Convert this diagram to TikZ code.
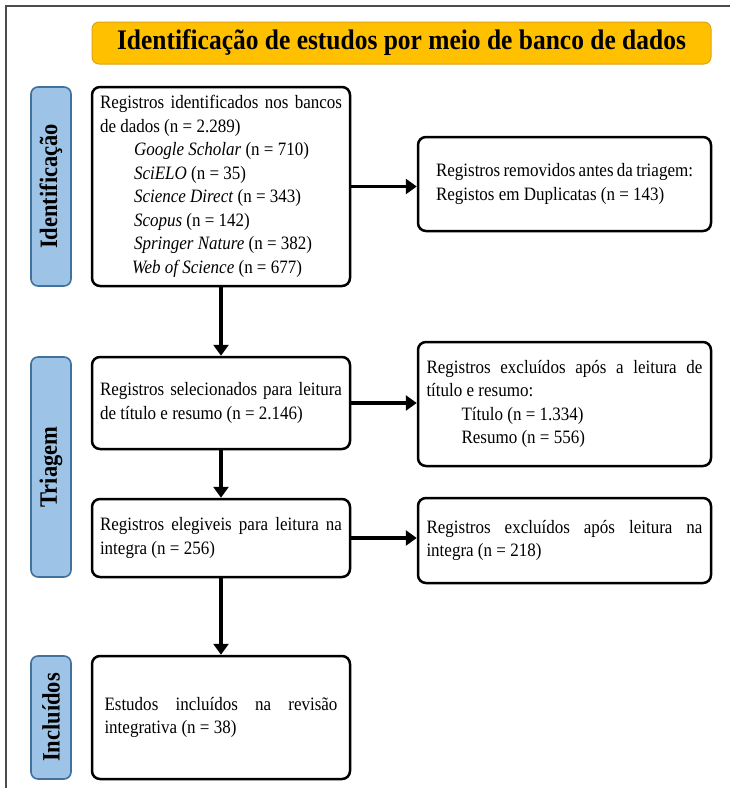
\documentclass[tikz,border=0pt]{standalone}
\usepackage{fontspec}
\setmainfont[FakeStretch=0.9]{Liberation Serif}
\usepackage{tikz}
\usetikzlibrary{arrows.meta}
\definecolor{amarelo}{RGB}{255,192,0}
\definecolor{amareloborda}{RGB}{222,165,20}
\definecolor{azul}{RGB}{157,195,230}
\definecolor{azulborda}{RGB}{65,113,156}
\tikzstyle{caixa}=[draw=black, line width=2.5pt, rounded corners=8pt, align=justify, inner sep=0pt, font=\fontsize{18.9}{23.5}\selectfont]
\tikzstyle{fase}=[draw=azulborda, fill=azul, line width=1.6pt, rounded corners=7pt, rotate=90, inner sep=0pt, minimum height=40pt, font=\fontsize{25}{28}\selectfont\bfseries]
\tikzstyle{titulo}=[draw=amareloborda, fill=amarelo, line width=1pt, rounded corners=7pt, inner sep=0pt, font=\fontsize{28.3}{32}\selectfont\bfseries]
\tikzstyle{seta}=[line width=3.2pt, -{Triangle[width=15pt,length=11pt]}]

\begin{document}
\begin{tikzpicture}[x=1pt, y=1pt]
    \useasboundingbox (0,0) rectangle (730,-788);
    \draw[line width=1.2pt, black!70] (6,-788) -- (6,-6) -- (730,-6);

    \node[titulo, minimum width=619pt, minimum height=42pt] (tit) at (401.5,-43) {Identificação de estudos por meio de banco de dados};

    \node[fase, minimum width=199pt] (fid) at (51,-186.5) {Identificação};
    \node[fase, minimum width=220pt] (ftr) at (51,-467) {Triagem};
    \node[fase, minimum width=123pt] (fin) at (51,-717.5) {Incluídos};

    \node[caixa, text width=242pt, minimum width=258pt, minimum height=199pt] (ident) at (221,-186.5) {Registros identificados nos bancos\linebreak de dados (n = 2.289)\\
        \hspace*{34pt}\textit{Google Scholar} (n = 710)\\
        \hspace*{34pt}\textit{SciELO} (n = 35)\\
        \hspace*{34pt}\textit{Science Direct} (n = 343)\\
        \hspace*{34pt}\textit{Scopus} (n = 142)\\
        \hspace*{34pt}\textit{Springer Nature} (n = 382)\\
        \hspace*{32pt}\textit{Web of Science} (n = 677)};
    \node[caixa, text width=242pt, minimum width=258pt, minimum height=92pt] (selec) at (221,-403) {Registros selecionados para leitura\linebreak de título e resumo (n = 2.146)};
    \node[caixa, text width=242pt, minimum width=258pt, minimum height=78pt] (eleg) at (221,-538) {Registros elegiveis para leitura na\linebreak integra (n = 256)};
    \node[caixa, text width=233pt, minimum width=258pt, minimum height=123pt] (incl) at (221,-717.5) {Estudos incluídos na revisão\linebreak integrativa (n = 38)};

    \node[caixa, text width=257pt, minimum width=293pt, minimum height=94pt] (remov) at (564.5,-184) {Registros removidos antes da triagem:\\ Registos em Duplicatas (n = 143)};
    \node[caixa, text width=276pt, minimum width=293pt, minimum height=124pt] (exclt) at (564.5,-404) {Registros excluídos após a leitura de\linebreak título e resumo:\\
        \hspace*{35pt}Título (n = 1.334)\\
        \hspace*{35pt}Resumo (n = 556)};
    \node[caixa, text width=276pt, minimum width=293pt, minimum height=85pt] (excli) at (564.5,-540.5) {Registros excluídos após leitura na\linebreak integra (n = 218)};

    \draw[seta] (ident.south) -- (selec.north);
    \draw[seta] (selec.south) -- (eleg.north);
    \draw[seta] (eleg.south) -- (incl.north);
    \draw[seta] (ident.east) -- (ident.east -| remov.west);
    \draw[seta] (selec.east) -- (selec.east -| exclt.west);
    \draw[seta] (eleg.east) -- (eleg.east -| excli.west);
\end{tikzpicture}
\end{document}
